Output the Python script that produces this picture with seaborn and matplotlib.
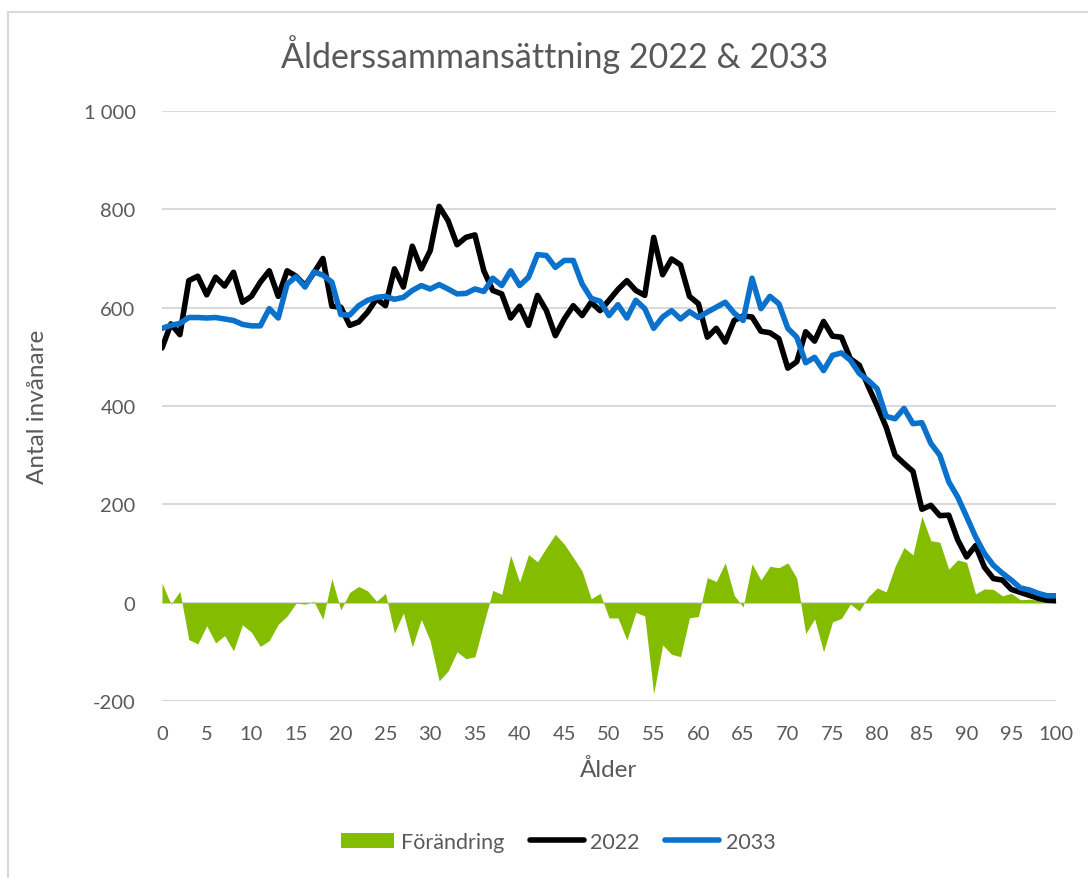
import pandas as pd
import matplotlib.pyplot as plt
import seaborn as sns
from matplotlib.patches import Patch
from matplotlib.lines import Line2D

# Ålder 0-100
alder = list(range(0, 101))

# Antal invånare 2022
ar_2022 = [518, 567, 545, 655, 664, 626, 662, 644, 672, 611,
           623, 652, 675, 623, 675, 664, 645, 671, 700, 603,
           601, 564, 571, 591, 618, 604, 679, 642, 725, 679,
           716, 806, 777, 728, 743, 748, 675, 635, 628, 579,
           603, 564, 625, 594, 543, 577, 604, 584, 611, 594,
           615, 637, 655, 635, 625, 743, 667, 699, 687, 623,
           608, 540, 558, 530, 574, 583, 581, 552, 549, 537,
           477, 490, 551, 532, 572, 542, 540, 496, 483, 440,
           400, 357, 300, 283, 267, 190, 198, 177, 178, 128,
           93, 116, 72, 49, 46, 27, 21, 15, 9, 5,
           4]

# Antal invånare 2033
ar_2033 = [558, 564, 568, 580, 580, 579, 580, 577, 574, 566,
           563, 563, 598, 579, 648, 663, 642, 673, 666, 652,
           586, 585, 604, 615, 621, 623, 617, 621, 635, 645,
           638, 647, 638, 628, 629, 638, 633, 660, 645, 675,
           645, 662, 708, 706, 682, 696, 696, 648, 619, 613,
           584, 606, 579, 615, 598, 558, 581, 594, 577, 592,
           580, 591, 601, 611, 589, 574, 660, 598, 623, 608,
           558, 540, 488, 499, 472, 503, 508, 493, 466, 452,
           435, 379, 374, 395, 364, 366, 324, 300, 246, 215,
           175, 134, 100, 76, 60, 46, 30, 26, 19, 14,
           14]

# Förändring
forandring = [40, -3, 23, -75, -84, -47, -82, -67, -98, -45,
              -60, -89, -77, -44, -27, -1, -3, 2, -34, 49,
              -15, 21, 33, 24, 3, 19, -62, -21, -90, -34,
              -78, -159, -139, -100, -114, -110, -42, 25, 17, 96,
              42, 98, 83, 112, 139, 119, 92, 64, 8, 19,
              -31, -31, -76, -20, -27, -185, -86, -105, -110, -31,
              -28, 51, 43, 81, 15, -9, 79, 46, 74, 71,
              81, 50, -63, -33, -100, -39, -32, -3, -17, 12,
              30, 22, 74, 112, 97, 176, 126, 123, 68, 87,
              82, 18, 28, 27, 14, 19, 6, 7, 5, 3,
              2]

x_ticks = list(range(0, 101, 5))
y_ticks = [-200, 0, 200, 400, 600, 800, 1000]
y_labels = ["-200", "0", "200", "400", "600", "800", "1 000"]

df = pd.DataFrame({"Ålder": alder, "2022": ar_2022, "2033": ar_2033, "Förändring": forandring})

sns.set_style("white")
plt.rcParams['font.family'] = ['Lato', 'DejaVu Sans']

gra = "#595959"
gron = "#84bc00"
bla = "#0a72cc"

fig = plt.figure(figsize=(10.88, 8.79), dpi=100)
ax = fig.add_axes([162 / 1088, 1 - 702 / 879, 894 / 1088, 590 / 879])

# Ytdiagram för förändringen
ax.fill_between(df["Ålder"], 0, df["Förändring"], color=gron, linewidth=0, zorder=2)

# Linjer
sns.lineplot(data=df, x="Ålder", y="2022", color="black", linewidth=4, ax=ax, zorder=3)
sns.lineplot(data=df, x="Ålder", y="2033", color=bla, linewidth=4, ax=ax, zorder=4)

ax.set_xlim(0, 100)
ax.set_ylim(-200, 1000)
ax.set_xticks(x_ticks)
ax.set_yticks(y_ticks)
ax.set_yticklabels(y_labels)
ax.tick_params(axis='both', length=0, labelsize=14.5, labelcolor=gra)
ax.tick_params(axis='x', pad=17)
ax.tick_params(axis='y', pad=19)
ax.grid(axis='y', color="#d9d9d9", linewidth=1.5, zorder=0)
ax.set_axisbelow(True)
for s in ax.spines.values():
    s.set_visible(False)

ax.set_xlabel("Ålder", fontsize=17.5, color=gra, labelpad=12)
ax.set_ylabel("Antal invånare", fontsize=17.5, color=gra, labelpad=26)

fig.text(555 / 1088, 1 - 55 / 879, "Ålderssammansättning 2022 & 2033",
         fontsize=24.5, color=gra, ha='center', va='center')

# Ram runt diagrammet
fig.add_artist(Line2D([8 / 1088, 8 / 1088], [0, 1 - 13 / 879], transform=fig.transFigure, color="#d9d9d9", linewidth=1.5))
fig.add_artist(Line2D([8 / 1088, 1], [1 - 13 / 879, 1 - 13 / 879], transform=fig.transFigure, color="#d9d9d9", linewidth=1.5))

handles = [Patch(facecolor=gron, edgecolor='none'),
           Line2D([0], [0], color="black", linewidth=4, solid_capstyle='round'),
           Line2D([0], [0], color=bla, linewidth=4, solid_capstyle='round')]
fig.legend(handles, ["Förändring", "2022", "2033"], loc='center', bbox_to_anchor=(558 / 1088, 1 - 843 / 879),
           ncol=3, frameon=False, fontsize=15.5, labelcolor=gra, handlelength=2.5, handletextpad=0.3,
           columnspacing=1.2)

plt.savefig("out.png", dpi=100)
